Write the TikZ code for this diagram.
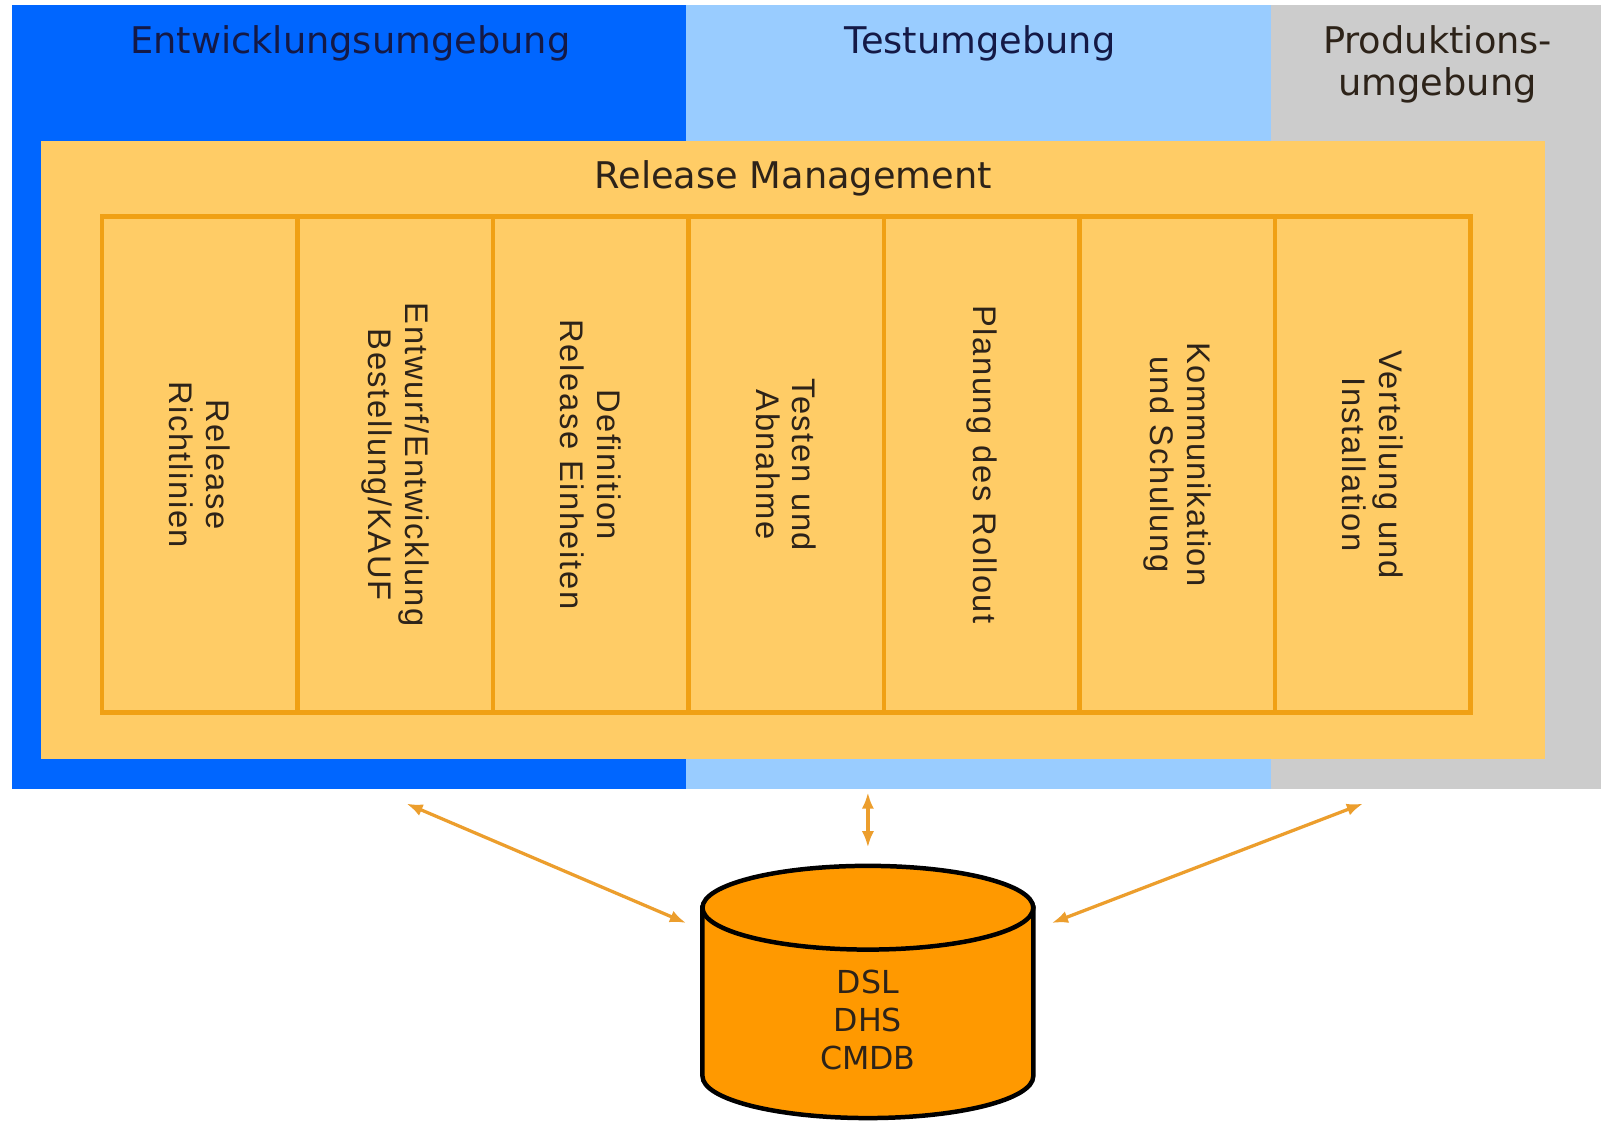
\documentclass[tikz,border=0pt]{standalone}
\usepackage{fontspec}
\setmainfont{DejaVu Sans}
\newfontfamily\colfont[LetterSpace=5]{Liberation Sans}
\usetikzlibrary{arrows.meta}
\definecolor{devblue}{RGB}{0,102,255}
\definecolor{testblue}{RGB}{153,204,255}
\definecolor{prodgray}{RGB}{204,204,204}
\definecolor{relfill}{RGB}{255,204,102}
\definecolor{gridline}{RGB}{240,160,20}
\definecolor{dbfill}{RGB}{255,153,0}
\definecolor{arrowc}{RGB}{236,158,45}
\definecolor{navytext}{RGB}{20,25,70}
\definecolor{darktext}{RGB}{45,35,25}
\begin{document}
\begin{tikzpicture}[x=0.5pt,y=-0.5pt,
  envtitle/.style={font=\fontsize{18}{20.5}\selectfont, align=center, inner sep=0pt},
  cellbox/.style={draw=gridline, line width=2.2pt, fill=relfill, rotate=-90,
    minimum width=243pt, minimum height=95.71pt, inner sep=0pt, align=center,
    text=darktext, font=\colfont\fontsize{16}{18}\selectfont},
  link/.style={draw=arrowc, line width=1.6pt,
    {Latex[length=8pt,width=6pt]}-{Latex[length=8pt,width=6pt]}},
  dbline/.style={draw=black, line width=2.2pt, fill=dbfill}
]
\useasboundingbox (0,0) rectangle (1568,1100);
% environment bands
\fill[devblue] (12,5) rectangle (672,773);
\fill[testblue] (672,5) rectangle (1245,773);
\fill[prodgray] (1245,5) rectangle (1568,773);
% release management box
\fill[relfill] (40,138) rectangle (1513,743);
% headers
\node[envtitle, text=navytext, anchor=base] (tdev) at (343,52) {Entwicklungsumgebung};
\node[envtitle, text=navytext, anchor=base] (ttest) at (960,52) {Testumgebung};
\node[envtitle, text=darktext] (tprod) at (1408,63) {Produktions-\\umgebung};
\node[envtitle, text=darktext, anchor=base] (trel) at (777,185) {Release Management};
% cells
\node[cellbox] (c1) at (195.7,455) {Release\\Richtlinien};
\node[cellbox] (c2) at (387.1,455) {Entwurf/Entwicklung\\Bestellung/KAUF};
\node[cellbox] (c3) at (578.6,455) {Definition\\Release Einheiten};
\node[cellbox] (c4) at (770.0,455) {Testen und\\Abnahme};
\node[cellbox] (c5) at (961.4,455) {Planung des Rollout};
\node[cellbox] (c6) at (1152.9,455) {Kommunikation\\und Schulung};
\node[cellbox] (c7) at (1344.3,455) {Verteilung und\\Installation};
% database cylinder
\path[dbline] (688,889) -- (688,1054) arc[start angle=180, end angle=360, x radius=81pt, y radius=20.5pt] -- (1012,889) -- cycle;
\path[dbline] (850,889) ellipse [x radius=81pt, y radius=20.5pt];
\node[font=\fontsize{15.5}{18.5}\selectfont, align=center, text=darktext] (db) at (850,999) {DSL\\DHS\\CMDB};
% connectors
\coordinate (dbL) at (672,904);
\coordinate (dbT) at (850,830);
\coordinate (dbR) at (1030,904);
\coordinate (eL) at (398,787);
\coordinate (eT) at (850,776);
\coordinate (eR) at (1335,787);
\draw[link] (eL) -- (dbL);
\draw[link] (eT) -- (dbT);
\draw[link] (eR) -- (dbR);
\end{tikzpicture}
\end{document}
